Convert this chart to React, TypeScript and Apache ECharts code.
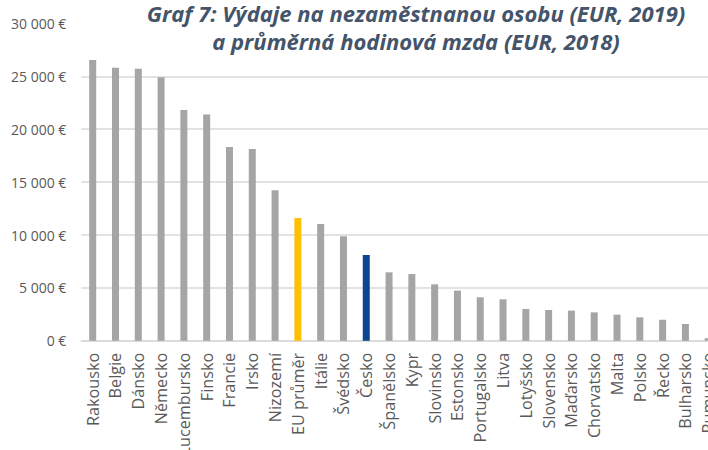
import React, { useEffect, useRef } from "react";
import * as echarts from "echarts";

const categories = [
  "Rakousko", "Belgie", "Dánsko", "Německo", "Lucembursko", "Finsko", "Francie",
  "Irsko", "Nizozemí", "EU průměr", "Itálie", "Švédsko", "Česko", "Španělsko",
  "Kypr", "Slovinsko", "Estonsko", "Portugalsko", "Litva", "Lotyšsko", "Slovensko",
  "Maďarsko", "Chorvatsko", "Malta", "Polsko", "Řecko", "Bulharsko", "Rumunsko",
];

const spending = [
  26540, 25810, 25720, 24900, 21810, 21400, 18320, 18130, 14220, 11600, 11040,
  9880, 8110, 6470, 6310, 5340, 4740, 4110, 3920, 3010, 2910, 2850, 2690, 2470,
  2220, 1990, 1590, 240,
];

const yTicks = [0, 5000, 10000, 15000, 20000, 25000, 30000];

const titleLines = [
  "Graf 7: Výdaje na nezaměstnanou osobu (EUR, 2019)",
  "a průměrná hodinová mzda (EUR, 2018)",
];

const highlight: Record<string, string> = {
  "EU průměr": "#FFC000",
  "Česko": "#0F448E",
};

export default function App() {
  const ref = useRef<HTMLDivElement>(null);
  useEffect(() => {
    if (!ref.current) return;
    const chart = echarts.init(ref.current, null, { renderer: "svg" });
    const fmt = (v: number) =>
      String(v).replace(/\B(?=(\d{3})+(?!\d))/g, " ") + " €";
    chart.setOption({
      animation: false,
      backgroundColor: "#fff",
      title: {
        text: titleLines.join("\n"),
        left: 416,
        top: -1,
        textAlign: "center",
        padding: 0,
        textStyle: {
          fontFamily: "Open Sans",
          fontStyle: "italic",
          fontWeight: "bold",
          fontSize: 22,
          lineHeight: 28,
          color: "#44546A",
        },
      },
      grid: {
        left: 81.3,
        right: 10.4,
        top: 23.4,
        bottom: 109.2,
        containLabel: false,
        outerBoundsMode: "none",
      },
      xAxis: {
        type: "category",
        data: categories,
        axisLine: { lineStyle: { color: "#D9D9D9", width: 1.5 } },
        axisTick: { show: false },
        axisLabel: {
          interval: 0,
          rotate: 90,
          margin: 12,
          fontFamily: "Open Sans",
          fontSize: 16.2,
          color: "#595959",
        },
      },
      yAxis: {
        type: "value",
        min: yTicks[0],
        max: yTicks[yTicks.length - 1],
        interval: 5000,
        axisLine: { show: false },
        axisTick: { show: false },
        axisLabel: {
          margin: 15,
          fontFamily: "Open Sans",
          fontSize: 14,
          color: "#595959",
          formatter: (v: number) => fmt(v),
        },
        splitLine: {
          showMaxLine: false,
          lineStyle: { color: "#D9D9D9", width: 1.5 },
        },
      },
      series: [
        {
          type: "bar",
          barWidth: 7,
          data: categories.map((c, i) => ({
            value: spending[i],
            itemStyle: { color: highlight[c] || "#A5A5A5" },
          })),
        },
      ],
    });
    return () => chart.dispose();
  }, []);
  return (
    <div
      style={{
        position: "fixed",
        left: 0,
        top: 0,
        width: 708,
        height: 450,
        overflow: "hidden",
        background: "#fff",
      }}
    >
      <div ref={ref} style={{ width: 730, height: 450 }} />
    </div>
  );
}
